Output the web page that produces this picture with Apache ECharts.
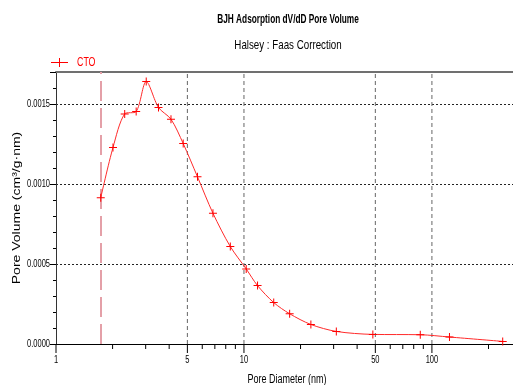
<!DOCTYPE html>
<html>
<head>
<meta charset="utf-8">
<title>BJH Adsorption dV/dD Pore Volume</title>
<script src="https://cdn.jsdelivr.net/npm/echarts@6/dist/echarts.min.js"></script>
<style>
  html, body { margin: 0; padding: 0; background: #fff; }
  #chart { width: 513px; height: 385px; }
</style>
</head>
<body>
<div id="chart"></div>
<script>
// Pore diameter (nm) and dV/dD pore volume (cm³/g·nm) for sample CTO
const poreDiameter = [1.73, 2.01, 2.32, 2.67, 3.02, 3.51, 4.09, 4.75, 5.66, 6.84, 8.46,
  10.28, 11.81, 14.4, 17.5, 22.7, 31.0, 48.5, 86.7, 124, 238];
const poreVolume = [0.000914, 0.001228, 0.001438, 0.001453, 0.00164, 0.001478, 0.001405,
  0.001253, 0.001045, 0.000817, 0.000609, 0.000469, 0.000365, 0.000259, 0.000189,
  0.000122, 0.0000786, 0.00006, 0.000058, 0.0000436, 0.0000162];

// Tick positions on the log x axis and the linear y axis
const xMajorTicks = [1, 5, 10, 50, 100];
const xMinorTicks = [2, 3, 4, 6, 7, 8, 9, 20, 30, 40, 60, 70, 80, 90, 200];
const xGridLines = [5, 10, 50, 100];
const yLabelTicks = [0, 0.0005, 0.001, 0.0015];

const X_MIN = 1, X_MAX = 270, Y_MAX = 0.0017;
const FONT = "'Liberation Sans', Arial, sans-serif";
const SQUEEZE = 0.75;   // condensed lettering used throughout the plot

const chart = echarts.init(document.getElementById('chart'));

function xTickSeries(name, values, len, withLabel) {
  return {
    name, type: 'custom', silent: true, clip: false, z: 4,
    xAxisIndex: 0, yAxisIndex: 0,
    data: values.map(v => [v, 0]),
    renderItem(params, api) {
      const v = api.value(0);
      const p = api.coord([v, 0]);
      const children = [{
        type: 'line',
        shape: { x1: p[0], y1: p[1], x2: p[0], y2: p[1] + len },
        style: { stroke: '#000', lineWidth: 1 }
      }];
      if (withLabel) {
        children.push({
          type: 'text', x: p[0], y: p[1] + 11, scaleX: SQUEEZE,
          style: { text: String(v), align: 'center', verticalAlign: 'top',
                   fontSize: 10, fontFamily: FONT, fill: '#000' }
        });
      }
      return { type: 'group', children };
    }
  };
}

const option = {
  animation: false,
  graphic: [
    { type: 'text', x: 288, y: 20, scaleX: 0.69, style: { text: 'BJH Adsorption dV/dD Pore Volume',
      align: 'center', verticalAlign: 'middle', fontSize: 12, fontWeight: 'bold',
      fontFamily: FONT, fill: '#000' } },
    { type: 'text', x: 288, y: 45, scaleX: SQUEEZE, style: { text: 'Halsey : Faas Correction',
      align: 'center', verticalAlign: 'middle', fontSize: 13,
      fontFamily: FONT, fill: '#000' } },
    // legend entry
    { type: 'line', shape: { x1: 51, y1: 62.5, x2: 68, y2: 62.5 },
      style: { stroke: '#ff0000', lineWidth: 1 } },
    { type: 'line', shape: { x1: 59.5, y1: 58, x2: 59.5, y2: 67 },
      style: { stroke: '#ff0000', lineWidth: 1 } },
    { type: 'text', x: 77, y: 62, scaleX: 0.68, style: { text: 'CTO',
      align: 'left', verticalAlign: 'middle', fontSize: 13,
      fontFamily: FONT, fill: '#ff0000' } },
    // axis titles
    { type: 'text', x: 287, y: 380, scaleX: SQUEEZE, style: { text: 'Pore Diameter (nm)',
      align: 'center', verticalAlign: 'middle', fontSize: 12,
      fontFamily: FONT, fill: '#000' } },
    { type: 'text', x: 17, y: 208, rotation: Math.PI / 2, scaleY: SQUEEZE,
      style: { text: 'Pore Volume (cm³/g·nm)', align: 'center', verticalAlign: 'middle',
      fontSize: 14, fontFamily: FONT, fill: '#000' } }
  ],
  grid: { left: 56, top: 72, right: 0, bottom: 41, containLabel: false, outerBoundsMode: 'none' },
  xAxis: [
    {
      type: 'log', min: X_MIN, max: X_MAX, position: 'bottom',
      axisLine: { onZero: false, lineStyle: { color: '#000', width: 1 } },
      axisTick: { show: false }, axisLabel: { show: false },
      splitLine: { show: false }, minorTick: { show: false }
    },
    {
      type: 'log', min: X_MIN, max: X_MAX, position: 'top',
      axisLine: { onZero: false, lineStyle: { color: '#707070', width: 2 } },
      axisTick: { show: false }, axisLabel: { show: false }, splitLine: { show: false }
    }
  ],
  yAxis: [
    {
      type: 'value', min: 0, max: Y_MAX, interval: 0.0005, position: 'left',
      axisLine: { show: true, onZero: false, lineStyle: { color: '#333', width: 1 } },
      axisTick: { show: true, length: 6, lineStyle: { color: '#000' } },
      axisLabel: { show: false },
      splitLine: { show: true, showMinLine: false, showMaxLine: false,
        lineStyle: { type: [2, 2], color: '#222', width: 1 } }
    },
    {
      type: 'value', min: 0, max: Y_MAX, interval: 0.0001, position: 'left',
      axisLine: { show: false }, axisLabel: { show: false }, splitLine: { show: false },
      axisTick: { show: true, length: 3, lineStyle: { color: '#000' } }
    }
  ],
  series: [
    {
      name: 'xGrid', type: 'custom', silent: true, clip: false, z: 1,
      xAxisIndex: 0, yAxisIndex: 0,
      data: xGridLines.map(v => [v, 0]),
      renderItem(params, api) {
        const a = api.coord([api.value(0), 0]);
        const b = api.coord([api.value(0), Y_MAX]);
        return { type: 'line', shape: { x1: a[0], y1: a[1], x2: b[0], y2: b[1] },
          style: { stroke: '#666', lineWidth: 1, lineDash: [4, 3] } };
      }
    },
    xTickSeries('xMajor', xMajorTicks, 9, true),
    xTickSeries('xMinor', xMinorTicks, 5, false),
    {
      name: 'yLabels', type: 'custom', silent: true, clip: false, z: 4,
      xAxisIndex: 0, yAxisIndex: 0,
      data: yLabelTicks.map(v => [X_MIN, v]),
      renderItem(params, api) {
        const v = api.value(1);
        const p = api.coord([X_MIN, v]);
        return { type: 'text', x: p[0] - 6, y: p[1], scaleX: SQUEEZE,
          style: { text: v.toFixed(4), align: 'right', verticalAlign: 'middle',
                   fontSize: 10, fontFamily: FONT, fill: '#000' } };
      }
    },
    {
      name: 'CTO', type: 'line', xAxisIndex: 0, yAxisIndex: 0, z: 5,
      data: poreDiameter.map((d, i) => [d, poreVolume[i]]),
      smooth: 0.3,
      symbol: 'path://M3.5,0h1v8h-1z M0,3.5h8v1h-8z', symbolSize: 8,
      showAllSymbol: true,
      itemStyle: { color: '#ff0000' },
      lineStyle: { color: '#ff2a2a', width: 1 },
      markLine: {
        silent: true, symbol: 'none', animation: false,
        label: { show: false },
        lineStyle: { color: '#e4a0a8', width: 2, type: [20, 7] },
        data: [{ xAxis: poreDiameter[0] }]
      }
    }
  ]
};

chart.setOption(option);
</script>
</body>
</html>
